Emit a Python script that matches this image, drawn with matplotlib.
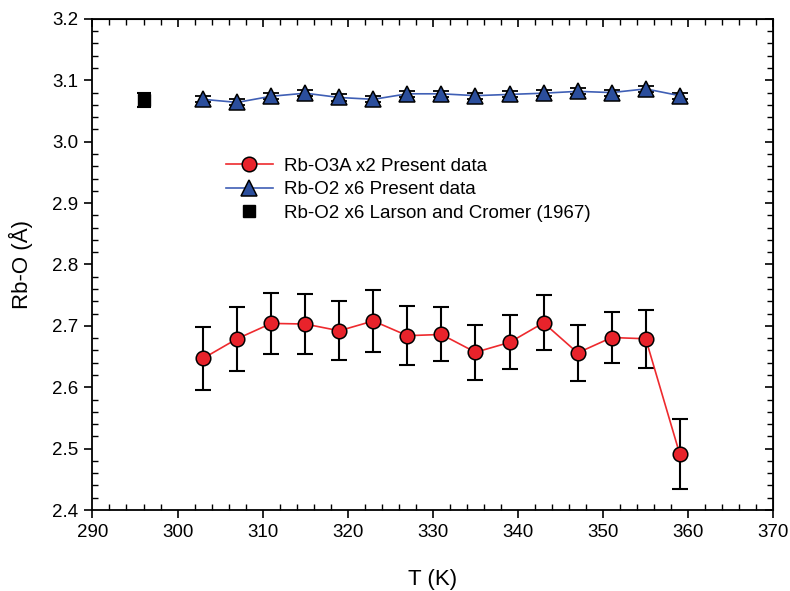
import matplotlib
matplotlib.use("Agg")
import matplotlib.pyplot as plt
from matplotlib.ticker import MultipleLocator
import numpy as np

plt.rcParams["font.family"] = ["Liberation Sans", "DejaVu Sans"]

# temperatures (K)
T = [303, 307, 311, 315, 319, 323, 327, 331, 335, 339, 343, 347, 351, 355, 359]

# Rb-O3A x2 present data
rb_o3a = [2.647, 2.679, 2.704, 2.703, 2.692, 2.708, 2.684, 2.686, 2.657, 2.673,
          2.705, 2.656, 2.681, 2.679, 2.491]
rb_o3a_err = [0.051, 0.052, 0.050, 0.049, 0.048, 0.050, 0.048, 0.044, 0.045, 0.044,
              0.045, 0.046, 0.042, 0.047, 0.057]

# Rb-O2 x6 present data
rb_o2 = [3.069, 3.064, 3.074, 3.079, 3.072, 3.069, 3.078, 3.078, 3.075, 3.077,
         3.079, 3.082, 3.080, 3.086, 3.075]
rb_o2_err = [0.005] * len(T)

# Rb-O2 x6 Larson and Cromer (1967)
lc_T = [296]
lc_val = [3.068]
lc_err = [0.012]

fig = plt.figure(figsize=(7.9, 5.91), dpi=100)
ax = fig.add_axes([0.117, 0.137, 0.862, 0.831])

# error bars first, markers on top
ax.errorbar(T, rb_o3a, yerr=rb_o3a_err, fmt="none", ecolor="black",
            elinewidth=1.5, capsize=5.5, capthick=1.5, zorder=2)
ax.errorbar(T, rb_o2, yerr=rb_o2_err, fmt="none", ecolor="black",
            elinewidth=1.3, capsize=5.5, capthick=1.3, zorder=2)
ax.errorbar(lc_T, lc_val, yerr=lc_err, fmt="none", ecolor="black",
            elinewidth=1.5, capsize=5, capthick=1.5, zorder=2)

ax.plot(T, rb_o3a, color="#ee2a2e", lw=1.2, marker="o", ms=10.5,
        mfc="#e8232b", mec="black", mew=1.1, zorder=3,
        label="Rb-O3A x2 Present data")
ax.plot(T, rb_o2, color="#3f5fb5", lw=1.2, marker="^", ms=11,
        mfc="#2b4e9c", mec="black", mew=1.1, zorder=3,
        label="Rb-O2 x6 Present data")
ax.plot(lc_T, lc_val, ls="none", marker="s", ms=8, mfc="black",
        mec="black", zorder=3, label="Rb-O2 x6 Larson and Cromer (1967)")

ax.set_xlim(290, 370)
ax.set_ylim(2.4, 3.2)
ax.xaxis.set_major_locator(MultipleLocator(10))
ax.xaxis.set_minor_locator(MultipleLocator(2))
ax.yaxis.set_major_locator(MultipleLocator(0.1))
ax.yaxis.set_minor_locator(MultipleLocator(0.02))
ax.yaxis.set_major_formatter(plt.FormatStrFormatter("%.1f"))

ax.tick_params(which="major", direction="out", length=6, width=1.2,
               labelsize=13.5, pad=4)
ax.tick_params(which="minor", direction="in", length=4, width=1)
for s in ax.spines.values():
    s.set_linewidth(1.3)

# top / right ticks pointing inward
ident = (lambda v: v, lambda v: v)
top = ax.secondary_xaxis("top", functions=ident)
top.xaxis.set_major_locator(MultipleLocator(10))
top.xaxis.set_minor_locator(MultipleLocator(2))
top.tick_params(which="major", direction="in", length=6, width=1.2, labeltop=False)
top.tick_params(which="minor", direction="in", length=4, width=1)
right = ax.secondary_yaxis("right", functions=ident)
right.yaxis.set_major_locator(MultipleLocator(0.1))
right.yaxis.set_minor_locator(MultipleLocator(0.02))
right.tick_params(which="major", direction="in", length=6, width=1.2, labelright=False)
right.tick_params(which="minor", direction="in", length=4, width=1)

ax.set_xlabel("T (K)", fontsize=16, labelpad=20)
ax.set_ylabel("Rb-O (Å)", fontsize=16, labelpad=14)

ax.legend(loc="upper left", bbox_to_anchor=(0.185, 0.733), frameon=False,
          fontsize=13.5, handlelength=2.5, handletextpad=0.6, labelspacing=0.35,
          borderaxespad=0)

fig.savefig("out.png", dpi=100)
